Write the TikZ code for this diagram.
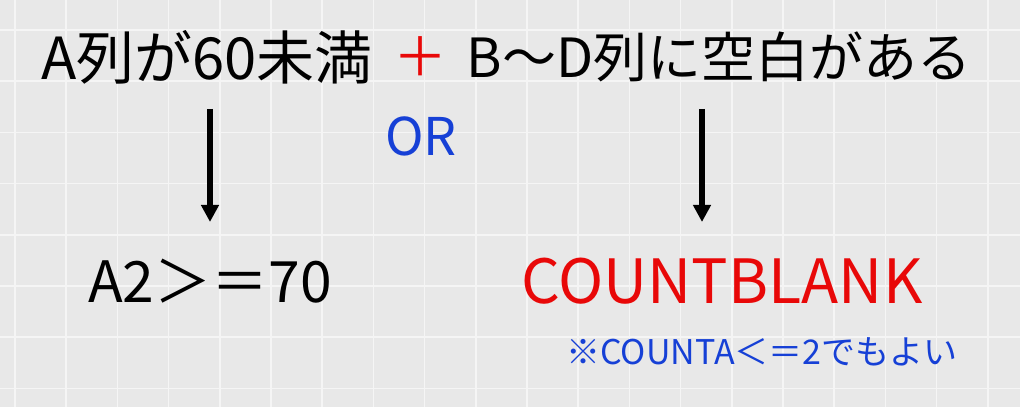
\documentclass[tikz,border=0pt]{standalone}
\usepackage{fontspec}
\setmainfont{Noto Sans CJK JP}
\usetikzlibrary{arrows.meta}
\definecolor{bgcol}{RGB}{232,232,232}
\definecolor{gridcol}{RGB}{245,245,245}
\definecolor{plusred}{RGB}{232,8,8}
\definecolor{orblue}{RGB}{22,64,214}
\tikzset{% styles of the picture
        lbl/.style={inner sep=0pt, text=black},
        down arrow/.style={line width=6pt, -{Triangle[width=17pt,length=17pt]}}
        }

\begin{document}
\begin{tikzpicture}[x=1pt,y=1pt]
 \useasboundingbox (0,0) rectangle (1020,407);
 \fill[bgcol] (0,0) rectangle (1020,407);
 \foreach \i in {0,...,19} \draw[gridcol, line width=1.5pt] (15+51.2*\i,0) -- (15+51.2*\i,407);
 \foreach \j in {0,...,7} \draw[gridcol, line width=1.5pt] (0,377-51.2*\j) -- (1020,377-51.2*\j);
 \node [lbl, font=\fontsize{58}{62}\selectfont] (condA) at (207,350) {A列が60未満};
 \node [lbl, text=plusred, font=\fontsize{54}{58}\selectfont] (plus) at (420,350) {＋};
 \node [lbl, font=\fontsize{54}{58}\selectfont] (condB) at (719,350) {B〜D列に空白がある};
 \node [lbl, text=orblue, font=\fontsize{52}{56}\selectfont] (or) at (421,271) {OR};
 \node [lbl, font=\fontsize{57}{60}\selectfont] (formA) at (210,126) {A2＞＝70};
 \node [lbl, text=plusred, font=\fontsize{61}{64}\selectfont] (formB) at (722,126) {COUNTBLANK};
 \node [lbl, text=orblue, font=\fontsize{34}{38}\selectfont] (note) at (762,55) {※COUNTA＜＝2でもよい};
 \coordinate (la1) at (210,298);
 \coordinate (la2) at (210,185);
 \coordinate (ra1) at (702,298);
 \coordinate (ra2) at (702,185);
 \draw [down arrow] (la1) -- (la2);
 \draw [down arrow] (ra1) -- (ra2);
\end{tikzpicture}
\end{document}
